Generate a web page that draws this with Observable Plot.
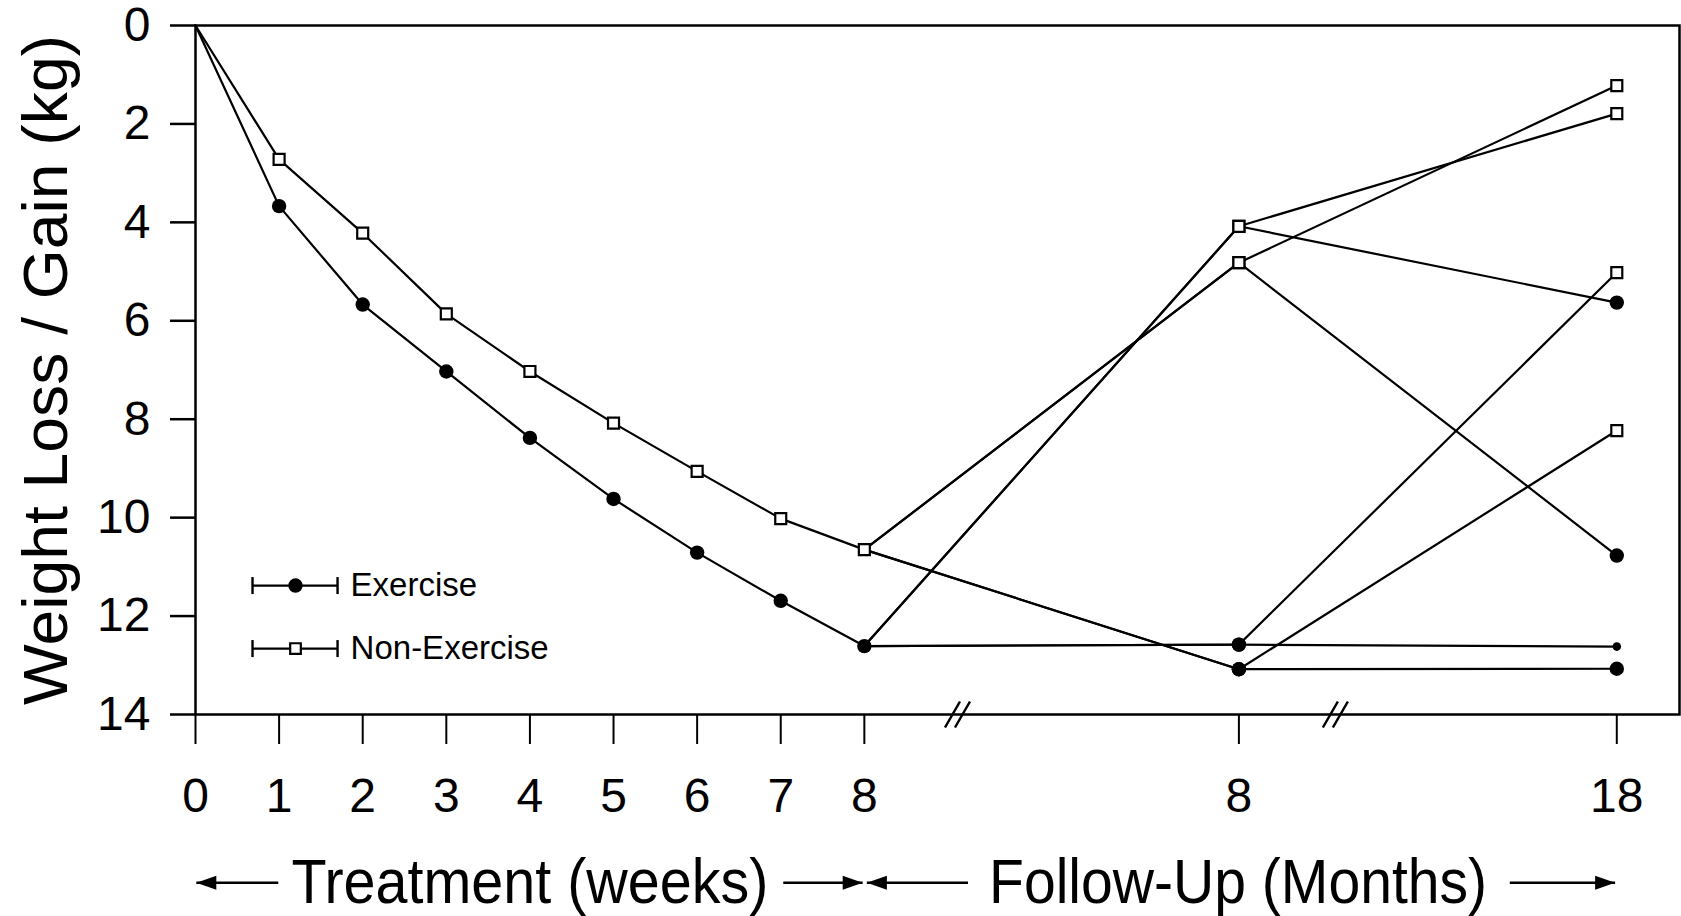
<!DOCTYPE html>
<html>
<head>
<meta charset="utf-8">
<script src="https://cdn.jsdelivr.net/npm/d3@7"></script>
<script src="https://cdn.jsdelivr.net/npm/@observablehq/plot@0.6"></script>
<style>
  html, body { margin: 0; padding: 0; background: #fff; overflow: hidden; }
</style>
</head>
<body>
<div id="chart"></div>
<script>
// ---------- data ----------
const weeks = [0, 1, 2, 3, 4, 5, 6, 7, 8];
const exerciseLoss    = [0, 3.67, 5.67, 7.03, 8.38, 9.62, 10.71, 11.69, 12.61];
const nonExerciseLoss = [0, 2.72, 4.22, 5.86, 7.03, 8.08, 9.06, 10.02, 10.65];

// follow-up branches (each starts at the 8-week value of its group)
const followStart   = ["Exercise", "Exercise", "Exercise", "Exercise",
                       "Non-Exercise", "Non-Exercise", "Non-Exercise", "Non-Exercise"];
const month8Loss    = [4.08, 4.08, 12.58, 12.58, 4.82, 4.82, 13.08, 13.08];
const month8Symbol  = ["square", "square", "circle", "circle", "square", "square", "circle", "circle"];
const month18Loss   = [1.79, 5.63, 12.62, 5.02, 1.22, 10.77, 13.07, 8.23];
const month18Symbol = ["square", "circle", "dot", "square", "square", "circle", "circle", "square"];

// axis positions (broken x axis: weeks 0-8, then 8 and 18 months)
const POS_WEEK8 = 8, POS_M8 = 12.48, POS_M18 = 17;
const xTickPos    = [0, 1, 2, 3, 4, 5, 6, 7, 8, POS_M8, POS_M18];
const xTickLabels = ["0", "1", "2", "3", "4", "5", "6", "7", "8", "8", "18"];
const yTicks      = [0, 2, 4, 6, 8, 10, 12, 14];
const axisBreaks  = [9.12, 13.64];

const legendLabels  = ["Exercise", "Non-Exercise"];
const legendSymbols = ["circle", "square"];

const yTitle = "Weight Loss / Gain (kg)";
const periodLabels = ["Treatment (weeks)", "Follow-Up (Months)"];
const periodCenters = [4.0, 12.47];
const periodArrows = [
  {tail: 0.99, tip: 0.01}, {tail: 7.03, tip: 7.98},
  {tail: 9.24, tip: 8.03}, {tail: 15.72, tip: 16.98}
];

// ---------- layout constants ----------
const LABEL_ROW = 17.42;              // y value of the period labels row (below axis)
const legendRowY = [11.38, 12.66];
const LEG = {x1: 0.682, x2: 1.699, marker: 1.196, text: 1.855};

// ---------- derived tables ----------
const startLoss = {"Exercise": exerciseLoss[8], "Non-Exercise": nonExerciseLoss[8]};
const pathPoints = [];
followStart.forEach((g, i) => {
  pathPoints.push({id: i, x: POS_WEEK8, y: startLoss[g]});
  pathPoints.push({id: i, x: POS_M8, y: month8Loss[i]});
  pathPoints.push({id: i, x: POS_M18, y: month18Loss[i]});
});
const markers = [];
weeks.forEach((w, i) => {
  if (i === 0) return;
  markers.push({x: w, y: exerciseLoss[i], s: "circle"});
  markers.push({x: w, y: nonExerciseLoss[i], s: "square"});
});
followStart.forEach((g, i) => {
  markers.push({x: POS_M8, y: month8Loss[i], s: month8Symbol[i]});
  markers.push({x: POS_M18, y: month18Loss[i], s: month18Symbol[i]});
});
const labelMap = new Map(xTickPos.map((p, i) => [p, xTickLabels[i]]));

// ---------- custom symbols (fixed pixel geometry) ----------
const slashSymbol = {draw(ctx) {
  ctx.moveTo(-13, 13); ctx.lineTo(2, -13);
  ctx.moveTo(-3, 13); ctx.lineTo(12, -13);
}};
const capSymbol = {draw(ctx) {
  ctx.moveTo(0, -8.5); ctx.lineTo(0, 8.5);
}};
const headRight = {draw(ctx) {
  ctx.moveTo(0, 0); ctx.lineTo(-20, -7); ctx.lineTo(-20, 7); ctx.closePath();
}};
const headLeft = {draw(ctx) {
  ctx.moveTo(0, 0); ctx.lineTo(20, -7); ctx.lineTo(20, 7); ctx.closePath();
}};

const FONT = "'Liberation Sans', Arial, Helvetica, sans-serif";

const chart = Plot.plot({
  width: 1681,
  height: 916,
  marginLeft: 195,
  marginRight: 2,
  marginTop: 25,
  marginBottom: 202,
  style: {background: "#fff", color: "#000", fontFamily: FONT},
  x: {domain: [0, 17.75]},
  y: {domain: [0, 14], reverse: true},
  marks: [
    Plot.frame({stroke: "#000", strokeWidth: 2.5}),
    Plot.axisY({ticks: yTicks, tickSize: 25, tickPadding: 20, fontSize: 48, strokeWidth: 2.5, label: null}),
    Plot.axisX({ticks: xTickPos, tickFormat: d => labelMap.get(d), tickSize: 30, tickPadding: 33,
                fontSize: 48, strokeWidth: 2, label: null}),
    Plot.dot(axisBreaks, {x: d => d, y: () => 14, symbol: slashSymbol, r: 13, fill: "none",
                          stroke: "#000", strokeWidth: 2.5}),
    // lines
    Plot.line(weeks, {x: d => d, y: (d, i) => exerciseLoss[i], stroke: "#000", strokeWidth: 2.2}),
    Plot.line(weeks, {x: d => d, y: (d, i) => nonExerciseLoss[i], stroke: "#000", strokeWidth: 2.2}),
    Plot.line(pathPoints, {x: "x", y: "y", z: "id", stroke: "#000", strokeWidth: 2.2}),
    // markers
    Plot.dot(markers.filter(d => d.s === "circle"), {x: "x", y: "y", r: 7.2, fill: "#000"}),
    Plot.dot(markers.filter(d => d.s === "dot"), {x: "x", y: "y", r: 4.3, fill: "#000"}),
    Plot.dot(markers.filter(d => d.s === "square"), {x: "x", y: "y", r: 6.2, symbol: "square",
                                                     fill: "#fff", stroke: "#000", strokeWidth: 2.2}),
    // legend
    Plot.link(legendLabels, {x1: () => LEG.x1, x2: () => LEG.x2, y1: (d, i) => legendRowY[i],
                             y2: (d, i) => legendRowY[i], stroke: "#000", strokeWidth: 2.2}),
    Plot.dot(legendLabels, {x: () => LEG.x1, y: (d, i) => legendRowY[i], symbol: capSymbol, r: 8.5,
                            stroke: "#000", strokeWidth: 2.4}),
    Plot.dot(legendLabels, {x: () => LEG.x2, y: (d, i) => legendRowY[i], symbol: capSymbol, r: 8.5,
                            stroke: "#000", strokeWidth: 2.4}),
    Plot.dot(legendLabels.filter((d, i) => legendSymbols[i] === "circle"),
             {x: () => LEG.marker, y: () => legendRowY[0], r: 7.2, fill: "#000"}),
    Plot.dot(legendLabels.filter((d, i) => legendSymbols[i] === "square"),
             {x: () => LEG.marker, y: () => legendRowY[1], r: 6, symbol: "square",
              fill: "#fff", stroke: "#000", strokeWidth: 2.2}),
    Plot.text(legendLabels, {x: () => LEG.text, y: (d, i) => legendRowY[i], text: d => d,
                             textAnchor: "start", fontSize: 33, fill: "#000"}),
    // y title
    Plot.text([yTitle], {frameAnchor: "left", text: d => d, rotate: -90, dx: -149,
                         textAnchor: "middle", lineAnchor: "middle", fontSize: 63, fill: "#000"}),
    // period labels + arrows
    Plot.text(periodLabels, {x: (d, i) => periodCenters[i], y: () => LABEL_ROW, text: d => d,
                             textAnchor: "middle", fontSize: 63, fill: "#000"}),
    Plot.link(periodArrows, {x1: "tail", x2: "tip", y1: () => LABEL_ROW, y2: () => LABEL_ROW,
                             stroke: "#000", strokeWidth: 2.5}),
    Plot.dot(periodArrows.filter(d => d.tip > d.tail), {x: "tip", y: () => LABEL_ROW,
             symbol: headRight, r: 10, fill: "#000"}),
    Plot.dot(periodArrows.filter(d => d.tip < d.tail), {x: "tip", y: () => LABEL_ROW,
             symbol: headLeft, r: 10, fill: "#000"})
  ]
});

// slightly condensed title lettering, as in the original figure
const lengths = {"Treatment (weeks)": 477, "Follow-Up (Months)": 498, "Weight Loss / Gain (kg)": 670};
chart.querySelectorAll("text").forEach(t => {
  const L = lengths[t.textContent];
  if (L) { t.setAttribute("textLength", L); t.setAttribute("lengthAdjust", "spacingAndGlyphs"); }
});
document.getElementById("chart").appendChild(chart);
</script>
</body>
</html>
